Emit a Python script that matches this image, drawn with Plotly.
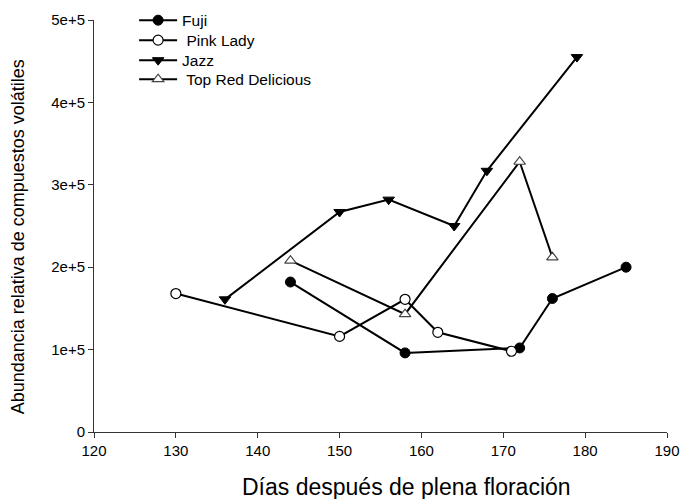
import plotly.graph_objects as go

fuji_x = [144, 158, 172, 176, 185]
fuji_y = [182000, 96000, 102000, 162000, 200000]

pink_x = [130, 150, 158, 162, 171]
pink_y = [168000, 116000, 161000, 121000, 98000]

jazz_x = [136, 150, 156, 164, 168, 179]
jazz_y = [161000, 267000, 282000, 250000, 317000, 455000]

trd_x = [144, 158, 172, 176]
trd_y = [208000, 143000, 328000, 212000]

x_ticks = [120, 130, 140, 150, 160, 170, 180, 190]
y_ticks = [0, 100000, 200000, 300000, 400000, 500000]
y_tick_text = ["0", "1e+5", "2e+5", "3e+5", "4e+5", "5e+5"]

x_title = "Días después de plena floración"
y_title = "Abundancia relativa de compuestos volátiles"

FONT = "Liberation Sans, Arial, sans-serif"

fig = go.Figure()
fig.add_trace(go.Scatter(x=fuji_x, y=fuji_y, name="Fuji", mode="lines+markers",
                         legend="legend",
                         line=dict(color="black", width=2),
                         marker=dict(symbol="circle", size=10, color="black",
                                     line=dict(color="black", width=1))))
fig.add_trace(go.Scatter(x=pink_x, y=pink_y, name=" Pink Lady", mode="lines+markers",
                         legend="legend2",
                         line=dict(color="black", width=2),
                         marker=dict(symbol="circle", size=10, color="white",
                                     line=dict(color="black", width=1.2))))
fig.add_trace(go.Scatter(x=jazz_x, y=jazz_y, name="Jazz", mode="lines+markers",
                         legend="legend3",
                         line=dict(color="black", width=2),
                         marker=dict(symbol="triangle-down", size=10, color="black",
                                     line=dict(color="black", width=1))))
fig.add_trace(go.Scatter(x=trd_x, y=trd_y, name=" Top Red Delicious", mode="lines+markers",
                         legend="legend4",
                         line=dict(color="black", width=2),
                         marker=dict(symbol="triangle-up", size=10, color="white",
                                     line=dict(color="#444444", width=1.2))))

def leg(y):
    return dict(x=0.07, y=y, xanchor="left", yanchor="top",
                bgcolor="rgba(0,0,0,0)", font=dict(size=15.5, family=FONT, color="black"),
                itemwidth=38)

fig.update_layout(
    width=683, height=499,
    margin=dict(l=94, r=16, t=0, b=67, autoexpand=False),
    paper_bgcolor="white", plot_bgcolor="white",
    font=dict(family=FONT, size=15, color="black"),
    showlegend=True,
    legend=leg(0.9917),
    legend2=leg(0.9454),
    legend3=leg(0.8991),
    legend4=leg(0.8551),
    annotations=[
        dict(text=x_title, xref="paper", yref="paper", x=0.545, y=-0.127,
             xanchor="center", yanchor="middle", showarrow=False,
             font=dict(size=23, family=FONT, color="black")),
        dict(text=y_title, xref="paper", yref="paper", x=-0.132, y=0.4514,
             xanchor="center", yanchor="middle", showarrow=False, textangle=-90,
             font=dict(size=18, family=FONT, color="black")),
    ],
)
fig.update_xaxes(range=[120, 190], tickvals=x_ticks, ticks="outside", ticklen=5,
                 showline=True, linecolor="#333333", linewidth=1, tickcolor="#333333",
                 showgrid=False, zeroline=False, tickfont=dict(size=15))
fig.update_yaxes(range=[0, 500000], tickvals=y_ticks, ticktext=y_tick_text,
                 domain=[0, 0.9537],
                 ticks="outside", ticklen=5,
                 showline=True, linecolor="#333333", linewidth=1, tickcolor="#333333",
                 showgrid=False, zeroline=False, tickfont=dict(size=15))

fig.write_html("out.html", config={"displayModeBar": False},
               post_script="document.body.style.margin='0px';document.documentElement.style.overflow='hidden';")
